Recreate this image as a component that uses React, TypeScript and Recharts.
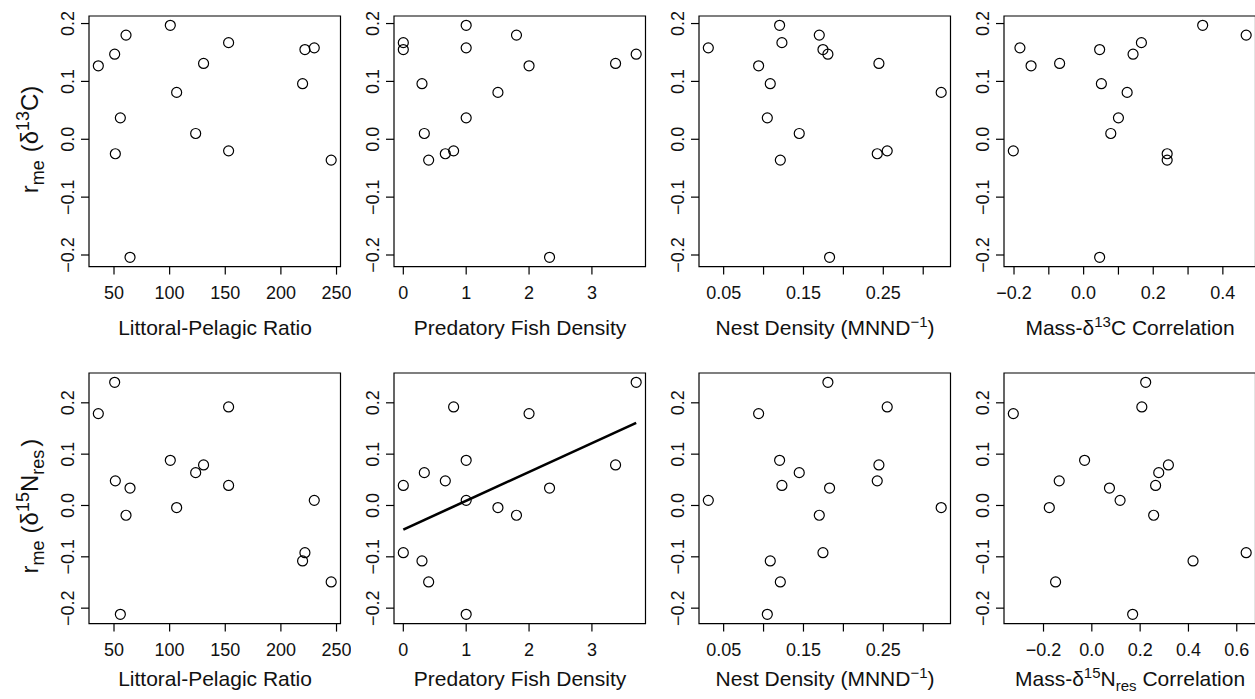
import React from 'react'
import { ScatterChart, Scatter, XAxis, YAxis, ReferenceArea, ReferenceLine } from 'recharts'

// 16 lakes, same order in every array
const d13C = [0.197, 0.18, 0.167, 0.158, 0.155, 0.147, 0.131, 0.127, 0.096, 0.081, 0.037, 0.01, -0.02, -0.025, -0.036, -0.204]
const d15N = [0.088, -0.019, 0.039, 0.01, -0.092, 0.24, 0.079, 0.179, -0.108, -0.004, -0.212, 0.064, 0.192, 0.048, -0.149, 0.034]

const littoralPelagic = [100.6, 60.8, 153, 230, 221.6, 50.6, 130.5, 35.9, 219.5, 106.3, 55.7, 123.4, 153, 51.2, 245.2, 64.4]
const fishDensity = [1.0, 1.8, 0, 1.0, 0, 3.704, 3.376, 2.0, 0.297, 1.505, 1.0, 0.334, 0.8, 0.668, 0.403, 2.326]
const nestDensity = [0.1201, 0.1698, 0.123, 0.0308, 0.1744, 0.1806, 0.2445, 0.0938, 0.1084, 0.3225, 0.1047, 0.1447, 0.2549, 0.2424, 0.121, 0.1827]
const massD13C = [0.342, 0.467, 0.166, -0.183, 0.046, 0.142, -0.069, -0.151, 0.051, 0.125, 0.1, 0.078, -0.202, 0.24, 0.24, 0.046]
const massD15N = [-0.03, 0.256, 0.264, 0.117, 0.639, 0.223, 0.317, -0.325, 0.419, -0.176, 0.169, 0.277, 0.207, -0.135, -0.15, 0.073]

// fitted line, predatory fish density vs d15N
const fitX = [0, 3.704]
const fitY = [-0.047, 0.161]

const rTicks = [-0.2, -0.1, 0, 0.1, 0.2]
const rLabels = ['\u22120.2', '\u22120.1', '0.0', '0.1', '0.2']
const lpTicks = [50, 100, 150, 200, 250]
const lpLabels = ['50', '100', '150', '200', '250']
const fishTicks = [0, 1, 2, 3]
const fishLabels = ['0', '1', '2', '3']
const nestTicks = [0.05, 0.1, 0.15, 0.2, 0.25, 0.3]
const nestLabels = ['0.05', '', '0.15', '', '0.25', '']
const mass13Ticks = [-0.2, -0.1, 0, 0.1, 0.2, 0.3, 0.4]
const mass13Labels = ['\u22120.2', '', '0.0', '', '0.2', '', '0.4']
const mass15Ticks = [-0.2, 0, 0.2, 0.4, 0.6]
const mass15Labels = ['\u22120.2', '0.0', '0.2', '0.4', '0.6']

const FONT = '"Liberation Sans", Arial, Helvetica, sans-serif'
const COL_LEFT = [89.3, 394.3, 699.3, 1004.3]
const ROW_TOP = [16, 373.3]
const BOX_W = 251.5
const BOX_H = 250.6
const AXIS_W = 89
const TOP_M = 16
const XAXIS_H = 60

// R-style axis range: data range padded 4% each side
function rRange(v: number[]): [number, number] {
  const lo = Math.min(...v)
  const hi = Math.max(...v)
  const pad = (hi - lo) * 0.04
  return [lo - pad, hi + pad]
}

function Circle(props: any) {
  return <circle cx={props.cx} cy={props.cy} r={5} fill="none" stroke="#000" strokeWidth={1.2} />
}

interface PanelProps {
  col: number
  row: number
  xs: number[]
  ys: number[]
  xTicks: number[]
  xLabels: string[]
  fit?: boolean
}

function Panel({ col, row, xs, ys, xTicks, xLabels, fit }: PanelProps) {
  const xDomain = rRange(xs)
  const yDomain = rRange(ys)
  const data = xs.map((x, i) => ({ x, y: ys[i] }))
  const left = COL_LEFT[col]
  const top = ROW_TOP[row]

  const XTick = ({ x, y, payload }: any) => (
    <text x={x} y={y + 18.7} textAnchor="middle" dominantBaseline="central"
      fontSize={18} fontFamily={FONT} fill="#111">
      {xLabels[xTicks.indexOf(payload.value)]}
    </text>
  )
  const YTick = ({ x, y, payload }: any) => (
    <text x={x - 13} y={y} textAnchor="middle" dominantBaseline="central"
      transform={`rotate(-90 ${x - 13} ${y})`} fontSize={18} fontFamily={FONT} fill="#111">
      {rLabels[rTicks.indexOf(payload.value)]}
    </text>
  )

  return (
    <div style={{ position: 'absolute', left: left - AXIS_W, top: top - TOP_M }}>
      <ScatterChart
        width={AXIS_W + BOX_W + 10}
        height={TOP_M + BOX_H + XAXIS_H}
        margin={{ top: TOP_M, right: 10, bottom: 0, left: 0 }}
      >
        <XAxis type="number" dataKey="x" domain={xDomain} allowDataOverflow ticks={xTicks}
          interval={0} height={XAXIS_H} tickSize={8} tickMargin={0} axisLine={false}
          tickLine={{ stroke: '#000', strokeWidth: 1.2 }} tick={<XTick />} />
        <YAxis type="number" dataKey="y" domain={yDomain} allowDataOverflow ticks={rTicks}
          interval={0} width={AXIS_W} tickSize={8} tickMargin={0} axisLine={false}
          tickLine={{ stroke: '#000', strokeWidth: 1.2 }} tick={<YTick />} />
        <ReferenceArea x1={xDomain[0]} x2={xDomain[1]} y1={yDomain[0]} y2={yDomain[1]}
          fill="none" stroke="#000" strokeWidth={1.2} ifOverflow="visible" />
        {fit && (
          <ReferenceLine
            segment={[{ x: fitX[0], y: fitY[0] }, { x: fitX[1], y: fitY[1] }]}
            stroke="#000" strokeWidth={2.6} ifOverflow="visible" />
        )}
        <Scatter data={data} shape={<Circle />} isAnimationActive={false} />
      </ScatterChart>
    </div>
  )
}

const sub = (dy: number, size = 15) => ({ dy, fontSize: size })

export default function App() {
  const xTitleY = [335, 686]
  const yTitleY = [139.5, 506]
  const cx = (c: number) => COL_LEFT[c] + BOX_W / 2

  return (
    <div style={{ position: 'absolute', left: 0, top: 0, width: 1255, height: 699, overflow: 'hidden', background: '#fff' }}>
      <Panel col={0} row={0} xs={littoralPelagic} ys={d13C} xTicks={lpTicks} xLabels={lpLabels} />
      <Panel col={1} row={0} xs={fishDensity} ys={d13C} xTicks={fishTicks} xLabels={fishLabels} />
      <Panel col={2} row={0} xs={nestDensity} ys={d13C} xTicks={nestTicks} xLabels={nestLabels} />
      <Panel col={3} row={0} xs={massD13C} ys={d13C} xTicks={mass13Ticks} xLabels={mass13Labels} />
      <Panel col={0} row={1} xs={littoralPelagic} ys={d15N} xTicks={lpTicks} xLabels={lpLabels} />
      <Panel col={1} row={1} xs={fishDensity} ys={d15N} xTicks={fishTicks} xLabels={fishLabels} fit />
      <Panel col={2} row={1} xs={nestDensity} ys={d15N} xTicks={nestTicks} xLabels={nestLabels} />
      <Panel col={3} row={1} xs={massD15N} ys={d15N} xTicks={mass15Ticks} xLabels={mass15Labels} />

      <svg width={1255} height={699} style={{ position: 'absolute', left: 0, top: 0, pointerEvents: 'none' }}
        fontFamily={FONT} fontSize={21} fill="#111">
        {[0, 1].map(r => (
          <g key={r}>
            <text x={cx(0)} y={xTitleY[r]} textAnchor="middle">Littoral-Pelagic Ratio</text>
            <text x={cx(1)} y={xTitleY[r]} textAnchor="middle">Predatory Fish Density</text>
            <text x={cx(2)} y={xTitleY[r]} textAnchor="middle">
              Nest Density (MNND<tspan {...sub(-8)}>{'\u22121'}</tspan><tspan dy={8}>)</tspan>
            </text>
          </g>
        ))}
        <text x={cx(3)} y={xTitleY[0]} textAnchor="middle">
          Mass-δ<tspan {...sub(-8)}>13</tspan><tspan dy={8}>C Correlation</tspan>
        </text>
        <text x={cx(3)} y={xTitleY[1]} textAnchor="middle">
          Mass-δ<tspan {...sub(-8)}>15</tspan><tspan dy={8}>N</tspan><tspan {...sub(5)}>res</tspan>
          <tspan dy={-5}> Correlation</tspan>
        </text>

        <g fontSize={24}>
          <text x={38} y={yTitleY[0]} textAnchor="middle" transform={`rotate(-90 38 ${yTitleY[0]})`}>
            r<tspan {...sub(6, 18)}>me</tspan><tspan dy={-6} dx={8}>(δ</tspan>
            <tspan {...sub(-9, 18)}>13</tspan><tspan dy={9}>C)</tspan>
          </text>
          <text x={38} y={yTitleY[1]} textAnchor="middle" transform={`rotate(-90 38 ${yTitleY[1]})`}>
            r<tspan {...sub(6, 18)}>me</tspan><tspan dy={-6} dx={7}>(δ</tspan>
            <tspan {...sub(-9, 18)}>15</tspan><tspan dy={9}>N</tspan><tspan {...sub(6, 18)}>res</tspan>
            <tspan dy={-6} dx={3}>)</tspan>
          </text>
        </g>
      </svg>
    </div>
  )
}
